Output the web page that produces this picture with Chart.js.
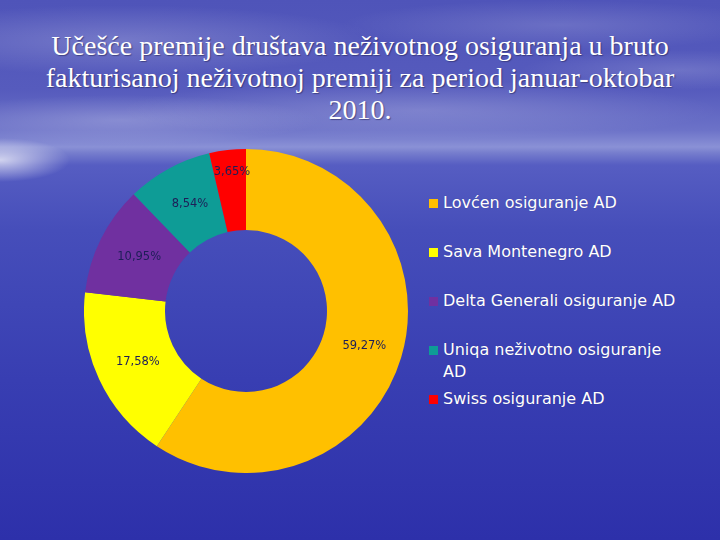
<!DOCTYPE html>
<html>
<head>
<meta charset="utf-8">
<script src="https://cdn.jsdelivr.net/npm/chart.js@4/dist/chart.umd.min.js"></script>
<style>
  html, body { margin: 0; padding: 0; }
  body {
    width: 720px; height: 540px; position: relative; overflow: hidden;
    background:
      radial-gradient(ellipse 70px 22px at 0px 160px, rgba(255,255,255,0.7), rgba(255,255,255,0) 100%),
      radial-gradient(ellipse 260px 35px at 120px 40px, rgba(255,255,255,0.2), rgba(255,255,255,0) 100%),
      radial-gradient(ellipse 220px 25px at 560px 25px, rgba(255,255,255,0.15), rgba(255,255,255,0) 100%),
      radial-gradient(ellipse 300px 30px at 420px 110px, rgba(255,255,255,0.18), rgba(255,255,255,0) 100%),
      radial-gradient(ellipse 200px 25px at 120px 120px, rgba(255,255,255,0.22), rgba(255,255,255,0) 100%),
      radial-gradient(ellipse 160px 20px at 680px 70px, rgba(255,255,255,0.15), rgba(255,255,255,0) 100%),
      linear-gradient(to bottom, #4f54b9 0px, #565bbd 90px, #6c72c8 130px, #8a91d6 147px, #767dcd 153px, #565dc2 165px, #464eba 230px, #383eb2 380px, #2d30aa 540px);
    font-family: "DejaVu Sans", sans-serif;
  }
  #title {
    position: absolute; left: 0; top: 30px; width: 720px;
    text-align: center; color: #fff;
    font-family: "Liberation Serif", "Times New Roman", serif;
    font-size: 28px; line-height: 32px;
    text-shadow: 1px 1px 1px rgba(40,40,90,0.6);
    margin: 0; font-weight: normal;
  }
  #chartBox {
    position: absolute; left: 84px; top: 149px; width: 324px; height: 324px;
  }
  #legend { position: absolute; left: 0; top: 0; }
  .item {
    position: absolute; left: 443px; width: 240px;
    color: #fff; font-size: 16px; line-height: 22px;
    text-shadow: 0 0 1px rgba(30,30,80,0.4);
  }
  .sw {
    position: absolute; left: -14px; top: 7px; width: 9px; height: 9px;
  }
</style>
</head>
<body>
<div id="title">Učešće premije društava neživotnog osiguranja u bruto<br>fakturisanoj neživotnoj premiji za period januar-oktobar<br>2010.</div>
<div id="chartBox"><canvas id="c"></canvas></div>
<div id="legend"></div>
<script>
const categories = ["Lovćen osiguranje AD", "Sava Montenegro AD", "Delta Generali osiguranje AD", "Uniqa neživotno osiguranje AD", "Swiss osiguranje AD"];
const shares = [59.27, 17.58, 10.95, 8.54, 3.65];
const shareLabels = ["59,27%", "17,58%", "10,95%", "8,54%", "3,65%"];
const colors = ["#FFC000", "#FFFF00", "#7030A0", "#0E9C96", "#FF0000"];

const labelPlugin = {
  id: 'sliceLabels',
  afterDatasetsDraw(chart) {
    const ctx = chart.ctx;
    const meta = chart.getDatasetMeta(0);
    ctx.save();
    ctx.font = '11.5px "DejaVu Sans", sans-serif';
    ctx.fillStyle = '#1e1e58';
    ctx.textAlign = 'center';
    ctx.textBaseline = 'middle';
    meta.data.forEach((arc, i) => {
      const p = arc.getProps(['x','y','startAngle','endAngle','innerRadius','outerRadius']);
      const mid = (p.startAngle + p.endAngle) / 2;
      // small slices get their label pushed outward
      const frac = (p.endAngle - p.startAngle) < 0.3 ? 0.73 : 0.5;
      const r = p.innerRadius + (p.outerRadius - p.innerRadius) * frac;
      ctx.fillText(shareLabels[i], p.x + Math.cos(mid) * r + 2, p.y + Math.sin(mid) * r);
    });
    ctx.restore();
  }
};

new Chart(document.getElementById('c'), {
  type: 'doughnut',
  data: {
    labels: categories,
    datasets: [{ data: shares, backgroundColor: colors, borderWidth: 0 }]
  },
  options: {
    responsive: true, maintainAspectRatio: false, animation: false,
    cutout: '50%',
    layout: { padding: 0 },
    plugins: { legend: { display: false }, tooltip: { enabled: false }, title: { display: false } }
  },
  plugins: [labelPlugin]
});

const legend = document.getElementById('legend');
categories.forEach((name, i) => {
  const d = document.createElement('div');
  d.className = 'item';
  d.style.top = (192 + i * 49) + 'px';
  const s = document.createElement('span');
  s.className = 'sw';
  s.style.background = colors[i];
  d.appendChild(s);
  d.appendChild(document.createTextNode(name));
  legend.appendChild(d);
});
</script>
</body>
</html>
